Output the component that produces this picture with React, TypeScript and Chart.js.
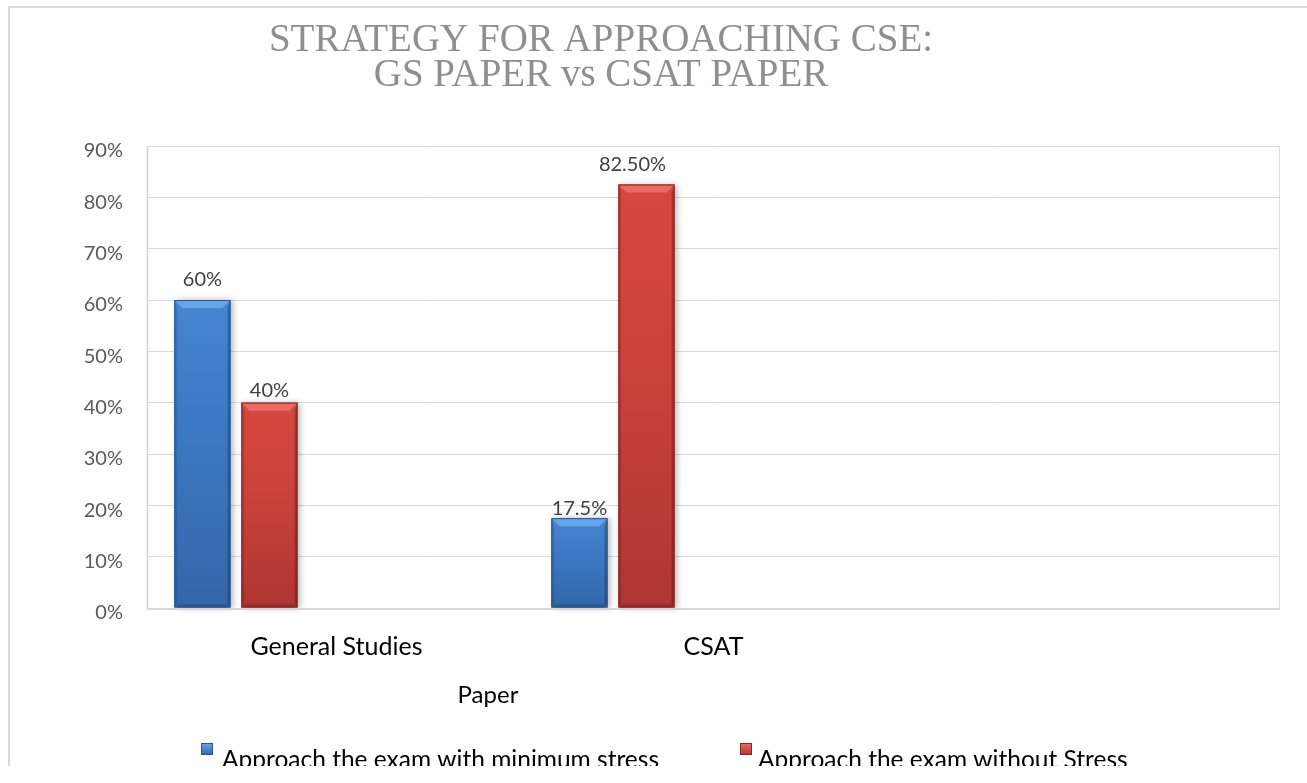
import { useEffect, useRef } from 'react';
import { Chart, registerables } from 'chart.js';

Chart.register(...registerables);

const titleLines = ['STRATEGY FOR APPROACHING CSE:', 'GS PAPER vs CSAT PAPER'];
const categories = ['General Studies', 'CSAT', ''];
const seriesNames = ['Approach the exam with minimum stress', 'Approach the exam without Stress'];
const minimumStress = [60, 17.5, null];
const withoutStress = [40, 82.5, null];
const minimumStressLabels = ['60%', '17.5%', ''];
const withoutStressLabels = ['40%', '82.50%', ''];
const axisTitle = 'Paper';
const yMin = 0;
const yMax = 90;
const yStep = 10;

// styling (not data)
const labelLift = [[20, 10], [12, 20]];
const labelShift = [[0, 0], [0, -14]];
const palettes = [
  { top: '#4585d2', mid: '#3c79c5', bottom: '#3466a8', bevel: '#67a4ea', edge: '#2a5591' },
  { top: '#d6483f', mid: '#cd423d', bottom: '#ae3632', bevel: '#ec6a66', edge: '#842725' },
];
const LATO = 'Lato, "Open Sans", sans-serif';

export default function App() {
  const ref = useRef<HTMLCanvasElement | null>(null);

  useEffect(() => {
    if (!ref.current) return;
    const labelSets = [minimumStressLabels, withoutStressLabels];

    const fillFor = (pi: number) => (c: any) => {
      const chart = c.chart;
      const p = palettes[pi];
      if (!chart.chartArea || c.raw == null || !chart.scales.y) return p.mid;
      const y0 = chart.scales.y.getPixelForValue(c.raw);
      const y1 = chart.scales.y.getPixelForValue(0);
      const g = chart.ctx.createLinearGradient(0, y0, 0, y1);
      g.addColorStop(0, p.top);
      g.addColorStop(0.4, p.mid);
      g.addColorStop(1, p.bottom);
      return g;
    };

    const decor = {
      id: 'decor',
      beforeDraw(chart: any) {
        const ctx = chart.ctx;
        ctx.save();
        ctx.fillStyle = '#ffffff';
        ctx.fillRect(0, 0, chart.width, chart.height);
        ctx.strokeStyle = '#d9d9d9';
        ctx.lineWidth = 2;
        ctx.beginPath();
        ctx.moveTo(8, 7);
        ctx.lineTo(chart.width, 7);
        ctx.moveTo(9, 6);
        ctx.lineTo(9, chart.height);
        ctx.stroke();
        // title
        ctx.fillStyle = '#8f8f8f';
        ctx.font = '39px "Liberation Serif", "Times New Roman", serif';
        ctx.textAlign = 'center';
        ctx.textBaseline = 'alphabetic';
        ctx.fillText(titleLines[0], 601, 51);
        ctx.fillText(titleLines[1], 601, 86);
        ctx.restore();
      },
      beforeDatasetsDraw(chart: any) {
        const ctx = chart.ctx;
        const a = chart.chartArea;
        ctx.save();
        // plot borders
        ctx.strokeStyle = '#c5d3e6';
        ctx.lineWidth = 1.5;
        ctx.beginPath();
        ctx.moveTo(a.left - 0.5, a.top);
        ctx.lineTo(a.left - 0.5, a.bottom + 1);
        ctx.stroke();
        ctx.strokeStyle = '#dadde2';
        ctx.lineWidth = 1;
        ctx.beginPath();
        ctx.moveTo(a.right + 0.5, a.top);
        ctx.lineTo(a.right + 0.5, a.bottom);
        ctx.stroke();
        // shadows
        chart.data.datasets.forEach((ds: any, di: number) => {
          if (di > 1) return;
          const meta = chart.getDatasetMeta(di);
          meta.data.forEach((el: any, i: number) => {
            if (ds.data[i] == null) return;
            const { x, y, base, width } = el.getProps(['x', 'y', 'base', 'width'], true);
            ctx.save();
            ctx.shadowColor = 'rgba(0,0,0,0.28)';
            ctx.shadowBlur = 6;
            ctx.shadowOffsetX = 3;
            ctx.shadowOffsetY = 0;
            ctx.fillStyle = palettes[di].mid;
            ctx.fillRect(x - width / 2, y, width, base - y);
            ctx.restore();
          });
        });
        ctx.restore();
      },
      afterDatasetsDraw(chart: any) {
        const ctx = chart.ctx;
        const a = chart.chartArea;
        ctx.save();
        chart.data.datasets.forEach((ds: any, di: number) => {
          if (di > 1) return;
          const p = palettes[di];
          const meta = chart.getDatasetMeta(di);
          meta.data.forEach((el: any, i: number) => {
            if (ds.data[i] == null) return;
            const { x, y, base, width } = el.getProps(['x', 'y', 'base', 'width'], true);
            const l = x - width / 2;
            const r = x + width / 2;
            const b = 8;
            // top bevel
            ctx.fillStyle = p.bevel;
            ctx.beginPath();
            ctx.moveTo(l, y);
            ctx.lineTo(r, y);
            ctx.lineTo(r - b, y + b);
            ctx.lineTo(l + b, y + b);
            ctx.closePath();
            ctx.fill();
            // left strip
            ctx.fillStyle = 'rgba(0,0,0,0.10)';
            ctx.beginPath();
            ctx.moveTo(l, y);
            ctx.lineTo(l + 3, y + b);
            ctx.lineTo(l + 3, base - 3);
            ctx.lineTo(l, base);
            ctx.closePath();
            ctx.fill();
            // right strip
            ctx.fillStyle = 'rgba(0,0,0,0.22)';
            ctx.beginPath();
            ctx.moveTo(r, y);
            ctx.lineTo(r - 3, y + b);
            ctx.lineTo(r - 3, base - 3);
            ctx.lineTo(r, base);
            ctx.closePath();
            ctx.fill();
            // bottom strip
            ctx.fillStyle = 'rgba(0,0,0,0.18)';
            ctx.fillRect(l + 3, base - 3, width - 6, 3);
            ctx.strokeStyle = p.edge;
            ctx.lineWidth = 1;
            ctx.strokeRect(l + 0.5, y + 0.5, width - 1, base - y - 1);
            // value label
            const txt = labelSets[di][i];
            ctx.fillStyle = '#404040';
            ctx.font = `20px ${LATO}`;
            ctx.textAlign = 'center';
            ctx.textBaseline = 'middle';
            ctx.fillText(txt, x + labelShift[di][i], y - labelLift[di][i]);
          });
        });
        // bottom axis line
        ctx.strokeStyle = '#d3d6db';
        ctx.lineWidth = 2;
        ctx.beginPath();
        ctx.moveTo(a.left - 1, a.bottom + 1);
        ctx.lineTo(a.right + 1, a.bottom + 1);
        ctx.stroke();
        ctx.restore();
      },
      afterDraw(chart: any) {
        const ctx = chart.ctx;
        ctx.save();
        ctx.fillStyle = '#000000';
        ctx.font = `24px ${LATO}`;
        ctx.textAlign = 'center';
        ctx.textBaseline = 'middle';
        ctx.fillText(axisTitle, 488, 695);
        // legend
        const items = [
          { mx: 201, tx: 222 },
          { mx: 740, tx: 758 },
        ];
        items.forEach((it, i) => {
          const p = palettes[i];
          const s = 12;
          const my = 743;
          const g = ctx.createLinearGradient(0, my, 0, my + s);
          g.addColorStop(0, p.bevel);
          g.addColorStop(1, p.bottom);
          ctx.fillStyle = g;
          ctx.fillRect(it.mx, my, s, s);
          ctx.strokeStyle = p.edge;
          ctx.lineWidth = 1;
          ctx.strokeRect(it.mx + 0.5, my + 0.5, s - 1, s - 1);
          ctx.fillStyle = '#000000';
          ctx.font = `24.5px ${LATO}`;
          ctx.textAlign = 'left';
          ctx.textBaseline = 'alphabetic';
          ctx.fillText(seriesNames[i], it.tx, 768);
        });
        ctx.restore();
      },
    };

    const chart = new Chart(ref.current, {
      type: 'bar',
      data: {
        labels: categories,
        datasets: [
          { label: seriesNames[0], data: minimumStress, backgroundColor: fillFor(0), borderWidth: 0 },
          { label: seriesNames[1], data: withoutStress, backgroundColor: fillFor(1), borderWidth: 0 },
          { label: '', data: [null, null, null] },
          { label: '', data: [null, null, null] },
          { label: '', data: [null, null, null] },
        ],
      },
      options: {
        animation: false,
        responsive: false,
        events: [],
        layout: { padding: { left: 0, top: 146, right: 28, bottom: 0 } },
        datasets: { bar: { categoryPercentage: 0.889, barPercentage: 0.836 } },
        plugins: { legend: { display: false }, title: { display: false }, tooltip: { enabled: false } },
        scales: {
          x: {
            grid: { display: false },
            border: { display: false },
            ticks: { color: '#000000', font: { family: LATO, size: 25 }, padding: 16, maxRotation: 0, autoSkip: false },
            afterFit: (s: any) => { s.height = 192; },
          },
          y: {
            min: yMin,
            max: yMax,
            border: { display: false },
            grid: {
              drawTicks: false,
              color: (c: any) => (c.tick && c.tick.value === 0 ? 'rgba(0,0,0,0)' : '#d9d9d9'),
              lineWidth: 1,
            },
            ticks: {
              stepSize: yStep,
              padding: 25,
              labelOffset: 5,
              color: '#595959',
              font: { family: LATO, size: 20 },
              callback: (v: any) => `${v}%`,
            },
            afterFit: (s: any) => { s.width = 148; },
          },
        },
      },
      plugins: [decor],
    });
    return () => chart.destroy();
  }, []);

  return (
    <div style={{ position: 'fixed', left: 0, top: 0, width: 1307, height: 766, overflow: 'hidden', background: '#fff' }}>
      <canvas ref={ref} width={1307} height={800} style={{ display: 'block' }} />
    </div>
  );
}
